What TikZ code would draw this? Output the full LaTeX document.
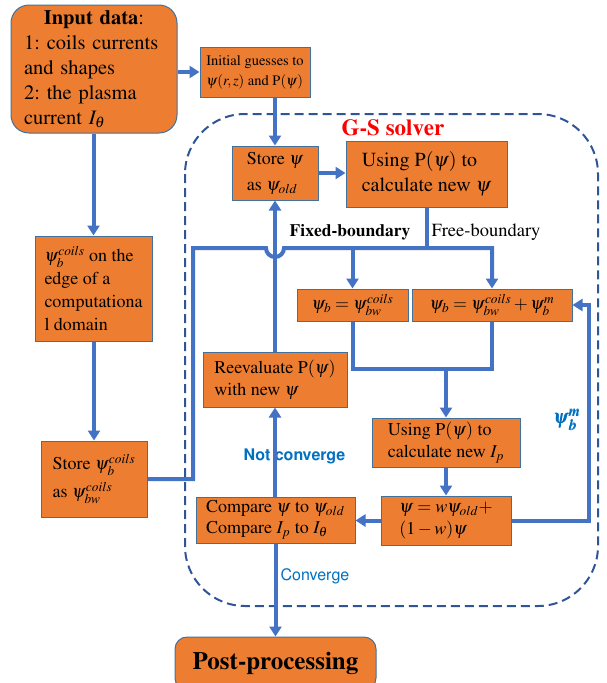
\documentclass[tikz,border=0pt]{standalone}
\usepackage[T1]{fontenc}
\usepackage{amsmath}
\usepackage{mathptmx}
\usetikzlibrary{arrows.meta,calc}
\definecolor{boxfill}{HTML}{ED7D31}
\definecolor{boxline}{HTML}{41719C}
\definecolor{conn}{HTML}{4472C4}
\definecolor{dashc}{HTML}{2F5597}
\definecolor{lblblue}{HTML}{0070C0}
\newcommand{\lblfont}{\fontfamily{phv}\selectfont}
\frenchspacing
\tikzset{
  box/.style={draw=boxline, line width=1pt, fill=boxfill, inner sep=0pt, align=left,
    font=\fontsize{18}{22}\selectfont},
  wire/.style={draw=conn, line width=4pt},
  arr/.style={wire, -{Triangle[length=10pt,width=12pt]}},
  bluelbl/.style={text=lblblue, font=\lblfont\fontsize{16}{20}\selectfont}
}
\begin{document}
\begin{tikzpicture}[x=1pt,y=-1pt]
\useasboundingbox (0,0) rectangle (607,683);
% dashed solver region
\draw[dashc, line width=2pt, dash pattern=on 9pt off 5pt, rounded corners=60pt] (185,114) rectangle (598,606);
\node[text=red, font=\fontsize{23}{26}\selectfont\bfseries] (gs) at (393,128) {G-S solver};

% nodes
\node[box, rounded corners=18pt, minimum width=166pt, minimum height=128pt, text width=140pt,
  font=\fontsize{20.5}{25}\selectfont] (in) at (94,69)
  {\hfil\textbf{Input data}:\hfil\\1: coils currents\\and shapes\\2: the plasma\\current $I_\theta$};
\node[box, minimum width=110pt, minimum height=50pt, font=\fontsize{14.5}{20}\selectfont] (init) at (255,72)
  {Initial guesses to\\$\psi(r,z)$ and $\mathrm{P}(\psi)$};
\node[box, minimum width=86pt, minimum height=54pt, font=\fontsize{18}{26}\selectfont] (store) at (275,173)
  {Store $\psi$\\as $\psi_{old}$};
\node[box, minimum width=161pt, minimum height=66pt, font=\fontsize{20}{25}\selectfont] (calc) at (426.5,174)
  {Using $\mathrm{P}(\psi)$ to\\calculate new $\psi$};
\node[box, minimum width=111pt, minimum height=32pt] (bfix) at (352.5,305)
  {$\psi_b = \psi_{bw}^{coils}$};
\node[box, minimum width=160pt, minimum height=32pt] (bfree) at (492,305)
  {$\psi_b = \psi_{bw}^{coils} + \psi_b^m$};
\node[box, minimum width=148pt, minimum height=49pt] (ip) at (446,442.5)
  {Using $\mathrm{P}(\psi)$ to\\calculate new $I_p$};
\node[box, minimum width=130pt, minimum height=49pt] (relax) at (446,520.5)
  {$\psi = w\psi_{old} +$\\$(1-w)\psi$};
\node[box, minimum width=159pt, minimum height=46pt, font=\fontsize{18}{21}\selectfont] (cmp) at (275.5,520)
  {Compare $\psi$ to $\psi_{old}$\\Compare $I_p$ to $I_\theta$};
\node[box, minimum width=144pt, minimum height=55pt] (reev) at (275,379.5)
  {Reevaluate $\mathrm{P}(\psi)$\\with new $\psi$};
\node[box, rounded corners=12pt, minimum width=201pt, minimum height=53pt, align=center,
  font=\fontsize{25}{28}\selectfont\bfseries] (post) at (275.5,663.5) {Post-processing};
\node[box, minimum width=117pt, minimum height=105pt, font=\fontsize{18}{23}\selectfont] (lb) at (93.5,288.5)
  {$\psi_b^{coils}$ on the\\edge of a\\computationa\\l domain};
\node[box, minimum width=106pt, minimum height=76pt, font=\fontsize{18}{28}\selectfont] (ls) at (94,479)
  {Store $\psi_b^{coils}$\\as $\psi_{bw}^{coils}$};

% labels
\node[font=\fontsize{17.5}{20}\selectfont\bfseries] (fixl) at (350,232) {Fixed-boundary};
\node[font=\fontsize{18.5}{20}\selectfont] (freel) at (486,232) {Free-boundary};
\node[text=lblblue, font=\fontsize{20}{22}\selectfont] (psibm) at (567,420)
  {$\pmb{\psi}_{\pmb{b}}^{\pmb{m}}$};
\node[bluelbl, font=\lblfont\fontsize{16}{20}\selectfont\bfseries] (nc) at (294.5,457) {Not converge};
\node[bluelbl] (cv) at (315,576) {Converge};

% coordinates
\coordinate (busL) at (193,248);
\coordinate (mrg) at (0,369);

% connectors
\draw[arr] (init.west -| in.east) -- (init.west);
\draw[arr] (init.south -| store.north) -- (store.north);
\draw[arr] (store.east) -- (store.east -| calc.west);
\draw[wire] (calc.south) -- (calc.south |- busL);
\draw[arr] (ls.east) -| (busL) -- ($(reev.north |- busL)+(-9,0)$)
  arc[start angle=180, end angle=0, radius=9] -- (bfree.north |- busL) -- (bfree.north);
\draw[arr] (bfix.north |- busL) -- (bfix.north);
\draw[wire] (bfix.south) |- (mrg -| bfree.south) -- (bfree.south);
\draw[arr] (mrg -| ip.north) -- (ip.north);
\draw[arr] (ip.south) -- (relax.north);
\draw[arr] (relax.west) -- (relax.west -| cmp.east);
\draw[arr] (relax.east) -- ++(77,0) |- (bfree.east);
\draw[arr] (cmp.north -| reev.south) -- (reev.south);
\draw[arr] (reev.north) -- (store.south);
\draw[arr] (cmp.south) -- (post.north);
\draw[arr] (in.south -| lb.north) -- (lb.north);
\draw[arr] (lb.south -| ls.north) -- (ls.north);
\end{tikzpicture}
\end{document}
